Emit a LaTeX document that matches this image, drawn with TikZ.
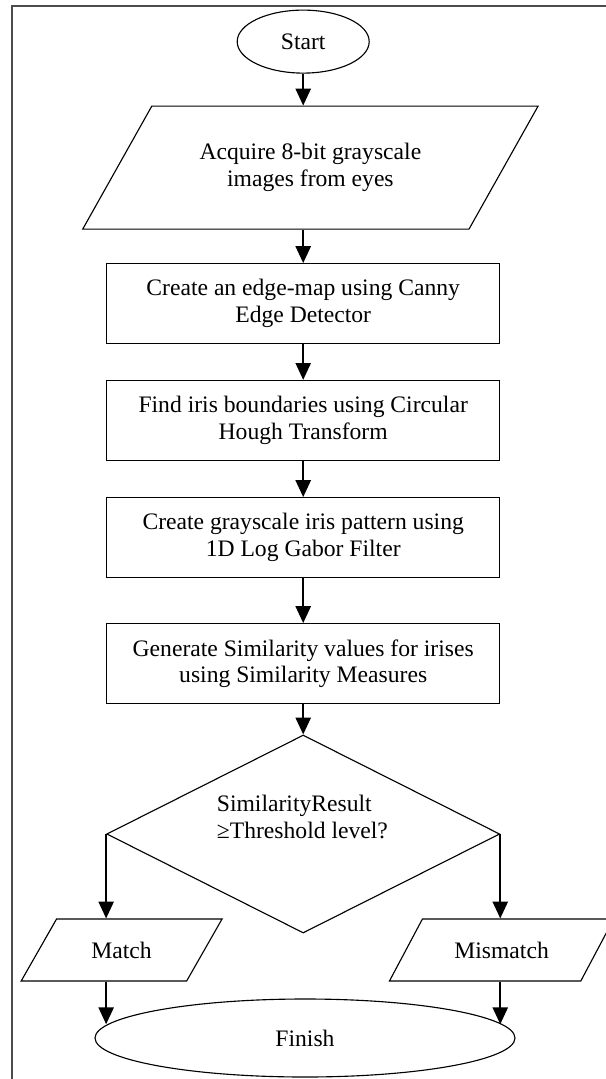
\documentclass[tikz,border=0pt]{standalone}
\usepackage{fontspec}
\setmainfont{Liberation Serif}
\usepackage{tikz}
\usetikzlibrary{shapes,positioning,calc}
\usetikzlibrary{shapes.geometric, arrows}
\usetikzlibrary{arrows.meta}
\tikzstyle{term} = [ellipse, 
inner sep=0pt, draw=black, thick]
\tikzstyle{io} = [trapezium, trapezium stretches=true, inner sep=2pt, align=center, draw=black, thick]
\tikzstyle{process} = [rectangle, minimum width=9.825cm, minimum height=2cm, text centered, align=center, draw=black, thick]
\tikzstyle{decision} = [diamond, minimum width=9.825cm, minimum height=4.95cm, inner sep=0pt, draw=black, thick]
\tikzstyle{arrow} = [line width=1.2pt,-{Triangle[length=4.2mm,width=3.8mm]}]

\begin{document}
\begin{tikzpicture}[every node/.style={font=\fontsize{16.8}{19}\selectfont}]
				\useasboundingbox (0,0) rectangle (15.15,-26.975);
				\draw[line width=1.4pt, black!70] (0.3,-27.2) -- (0.3,-0.15) -- (15.4,-0.15);
				\node (start) at (7.58,-1.04) [term, minimum width=3.3cm, minimum height=1.575cm] {Start};
				\node (acq) at (7.76,-4.19) [io, trapezium left angle=47.4, trapezium right angle=132.6, minimum width=11.4cm, minimum height=3.075cm] {Acquire 8-bit grayscale\\images from eyes};
				\node (edge) at (7.58,-7.59) [process] {Create an edge-map using Canny\\Edge Detector};
				\node (hough) at (7.58,-10.51) [process] {Find iris boundaries using Circular\\Hough Transform};
				\node (gabor) at (7.58,-13.44) [process] {Create grayscale iris pattern using\\1D Log Gabor Filter};
				\node (simval) at (7.58,-16.59) [process] {Generate Similarity values for irises\\using Similarity Measures};
				\node (check) at (7.58,-20.85) [decision] {};
				\node[align=left] (checktxt) at (7.56,-20.43) {SimilarityResult\\≥Threshold level?};
				\node (match) at (3.04,-23.75) [io, trapezium left angle=51.1, trapezium right angle=128.9, minimum width=5.025cm, minimum height=1.55cm] {Match};
				\node (mismatch) at (12.54,-23.75) [io, trapezium left angle=46.9, trapezium right angle=133.1, minimum width=5.625cm, minimum height=1.55cm] {Mismatch};
				\node (finish) at (7.625,-25.95) [term, minimum width=10.5cm, minimum height=1.95cm] {Finish};
				\draw [arrow] (start) -- (start |- acq.north);
				\draw [arrow] (edge |- acq.south) -- (edge);
				\draw [arrow] (edge) -- (hough);
				\draw [arrow] (hough) -- (gabor);
				\draw [arrow] (gabor) -- (simval);
				\draw [arrow] (simval) -- (check);
				\draw [arrow] (check.west) -- (check.west |- match.north);
				\draw [arrow] (check.east) -- (check.east |- mismatch.north);
				\draw [arrow] (check.west |- match.south) -- (check.west |- finish.176);
				\draw [arrow] (check.east |- mismatch.south) -- (check.east |- finish.4);
				\end{tikzpicture}
\end{document}
